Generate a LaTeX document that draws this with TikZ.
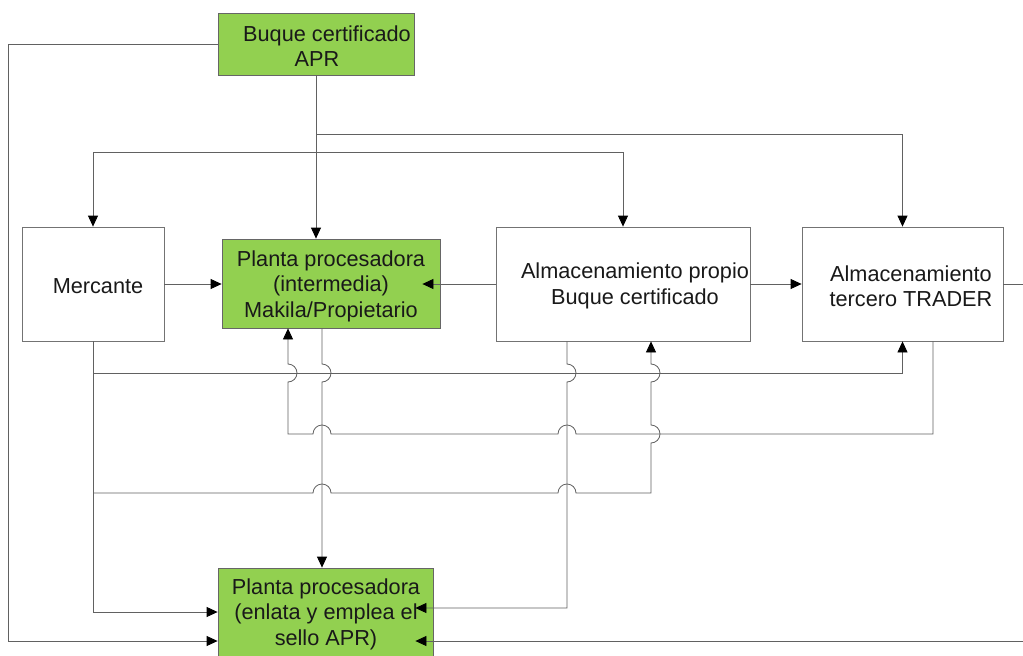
\documentclass[tikz,border=0pt]{standalone}
\usepackage{fontspec}
\setmainfont{Liberation Sans}
\usetikzlibrary{arrows.meta}
\definecolor{aprgreen}{HTML}{92D050}
\begin{document}
\begin{tikzpicture}[x=1pt,y=-1pt,
  ln/.style={draw=black!62, line width=0.8pt},
  arr/.style={ln, -{Triangle[length=11pt,width=10pt,color=black]}},
  wbox/.style={draw=black!55, line width=0.8pt, fill=white, inner sep=0pt},
  gbox/.style={draw=black!60, line width=0.8pt, fill=aprgreen, inner sep=0pt},
  txt/.style={align=center, font=\fontsize{21.7}{25.5}\selectfont, inner sep=0pt, text=black!90}]
\fill[white] (0,0) rectangle (1023,656);
\useasboundingbox (0,0) rectangle (1023,656);

% boxes
\node[gbox, minimum width=196pt, minimum height=62pt] (apr) at (316,44) {};
\node[wbox, minimum width=142pt, minimum height=114pt] (merc) at (93,284) {};
\node[gbox, minimum width=218pt, minimum height=89pt] (pint) at (331,283.5) {};
\node[wbox, minimum width=254pt, minimum height=114pt] (ap) at (623,284) {};
\node[wbox, minimum width=201pt, minimum height=114pt] (trd) at (902.5,284) {};
\node[gbox, minimum width=215pt, minimum height=110pt] (pb) at (325.5,623) {};

% connectors from the top box
\draw[arr] (apr.west) -| (8,641) -- (pb.west |- 0,641);
\draw[arr] (apr.south) -- (apr.south |- pint.north);
\draw[arr] (apr.south |- 0,134) -| (trd.north);
\draw[arr] (apr.south |- 0,152) -| (merc.north);
\draw[arr] (apr.south |- 0,152) -| (ap.north);

% horizontal links
\draw[arr] (merc.east) -- (pint.west |- merc.east);
\draw[arr, shorten >=-18pt] (ap.west) -- (pint.east |- ap.west);
\draw[arr] (ap.east) -- (trd.west);
\draw[arr, shorten >=-18pt] (trd.east) -- (1030,284) |- (pb.east |- 0,641);

% from Mercante
\draw[arr] (merc.south) |- (pb.west |- 0,612);
\draw[arr] (93,373) -| (trd.south);
\draw[arr] (93,493) -- (313,493) arc[start angle=180,end angle=0,radius=9pt]
  -- (558,493) arc[start angle=180,end angle=0,radius=9pt]
  -- (651,493) -- (651,443) arc[start angle=-90,end angle=90,radius=9pt]
  -- (651,382) arc[start angle=-90,end angle=90,radius=9pt]
  -- (651,0 |- ap.south);

% from tercero back to planta intermedia
\draw[arr] (933,0 |- trd.south) -- (933,434) -- (576,434) arc[start angle=0,end angle=180,radius=9pt]
  -- (331,434) arc[start angle=0,end angle=180,radius=9pt]
  -- (288,434) -- (288,382) arc[start angle=-90,end angle=90,radius=9pt]
  -- (288,0 |- pint.south);

% planta intermedia down to bottom plant
\draw[arr] (322,0 |- pint.south) -- (322,364) arc[start angle=90,end angle=-90,radius=9pt]
  -- (322,0 |- pb.north);

% almacenamiento propio down to bottom plant
\draw[arr, shorten >=-18pt] (567,0 |- ap.south) -- (567,364) arc[start angle=90,end angle=-90,radius=9pt]
  -- (567,608) -- (pb.east |- 0,608);

% texts
\node[txt] (t-apr) at (317,46) {\hspace*{20pt}Buque certificado\\APR};
\node[txt] (t-merc) at (98,286) {Mercante};
\node[txt] (t-pint) at (331,286) {Planta procesadora\\(intermedia)\\Makila/Propietario};
\node[txt] (t-ap) at (635,286) {Almacenamiento propio\\Buque certificado};
\node[txt] (t-trd) at (911,286) {Almacenamiento\\tercero TRADER};
\node[txt] (t-pb) at (326,614) {Planta procesadora\\(enlata y emplea el\\sello APR)};
\end{tikzpicture}
\end{document}
